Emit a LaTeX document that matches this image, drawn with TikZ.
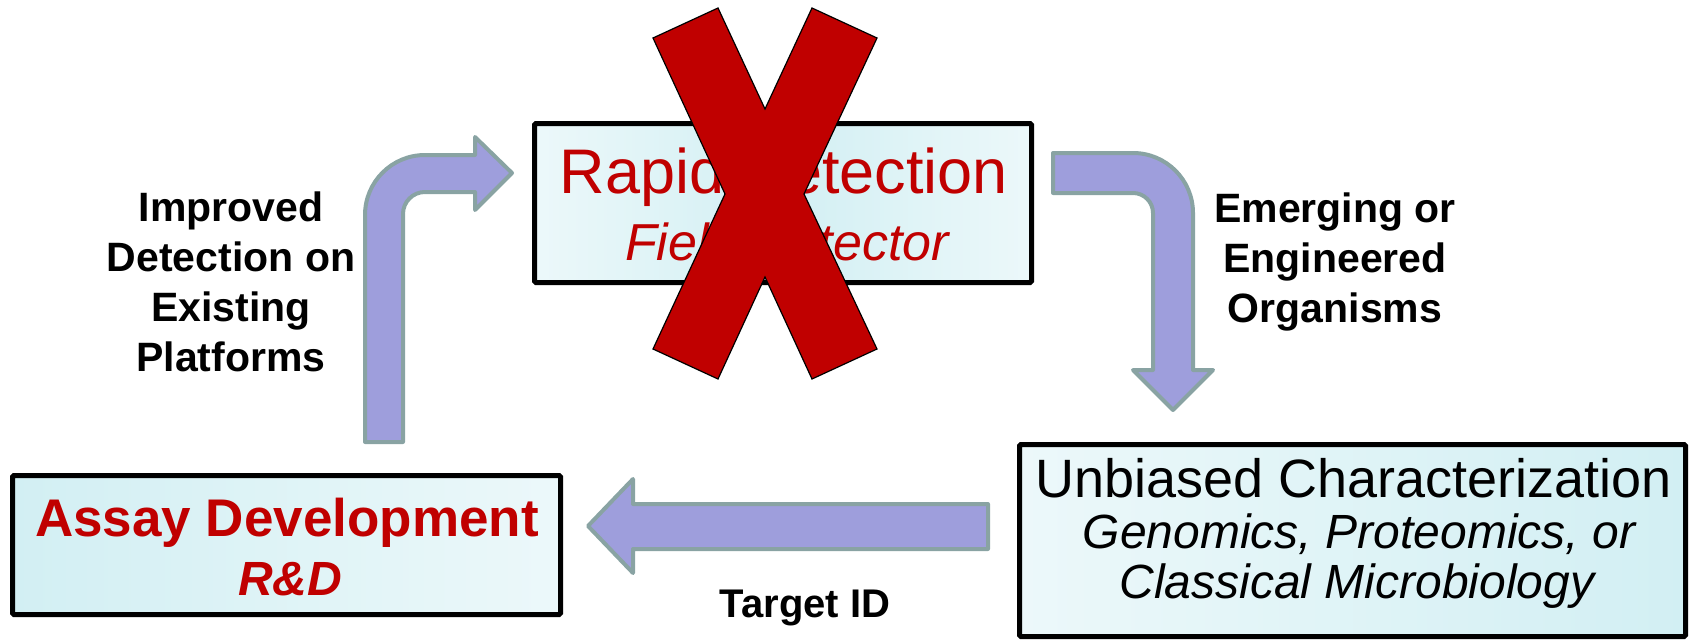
\documentclass[tikz,border=0pt]{standalone}
\usepackage{fontspec}
\setmainfont{Liberation Sans}
\definecolor{darkred}{RGB}{192,0,0}
\definecolor{arrowfill}{RGB}{158,158,220}
\definecolor{arrowedge}{RGB}{137,163,163}
\definecolor{paleblue}{RGB}{236,248,250}
\definecolor{midblue}{RGB}{210,239,243}
\newcommand{\fsz}[1]{\fontsize{#1}{#1}\selectfont}
\tikzset{box/.style={draw=black,line width=5pt,rounded corners=1.5pt,inner sep=0pt},
  fat/.style={fill=arrowfill,draw=arrowedge,line width=4pt,line join=round},
  cross/.style={fill=darkred,draw=black,line width=1.2pt},
  lbl/.style={font=\bfseries\fontsize{41}{50}\selectfont,align=center}}

\begin{document}
\begin{tikzpicture}[x=1pt,y=-1pt]
\useasboundingbox (0,0) rectangle (1692,642);
% the three stages
\node[box,left color=paleblue,right color=paleblue,middle color=midblue,minimum width=497pt,minimum height=159pt] (rapid) at (783,203) {};
\node[box,left color=midblue,right color=paleblue,minimum width=548pt,minimum height=139pt] (assay) at (286.5,545) {};
\node[box,left color=paleblue,right color=midblue,minimum width=666pt,minimum height=192pt] (unbiased) at (1352.5,540.5) {};
\node[anchor=base,text=darkred,font=\fsz{63}] (rapidtitle) at (784,193) {Rapid Detection};
\node[anchor=base,text=darkred,font=\fsz{52}\itshape] (rapidsub) at (787,260) {Field Detector};
\node[anchor=base,text=darkred,font=\fsz{53}\bfseries] (assaytitle) at (287,536) {Assay Development};
\node[anchor=base,text=darkred,font=\fsz{48}\bfseries\itshape] (assaysub) at (290,595) {R\&D};
\node[anchor=base,font=\fsz{54}] (unbtitle) at (1354,497) {Unbiased Characterization};
\node[anchor=base,font=\fsz{48}\itshape] (unbsub) at (1359,548) {Genomics, Proteomics, or};
\node[anchor=base,font=\fsz{48}\itshape] (unbsubb) at (1357,598) {Classical Microbiology};
% block arrows
\draw[fat] (365,442) -- (365,215) arc[start angle=180,end angle=270,radius=60] -- (475,155) -- (475,137) -- (512,173) -- (475,210) -- (475,192) -- (425,192) arc[start angle=270,end angle=180,radius=22] -- (403,442) -- cycle;
\draw[fat] (1053,153) -- (1133,153) arc[start angle=270,end angle=360,radius=60] -- (1193,370) -- (1213,370) -- (1173,410) -- (1133,370) -- (1153,370) -- (1153,213) arc[start angle=0,end angle=-90,radius=20] -- (1053,193) -- cycle;
\draw[fat] (988,504) -- (633,504) -- (633,479) -- (588,526) -- (633,573) -- (633,549) -- (988,549) -- cycle;
\node[lbl] (improved) at (231,282) {Improved\\Detection on\\Existing\\Platforms};
\node[lbl] (emerging) at (1335,262) {Emerging or\\Engineered\\Organisms};
\node[anchor=base,font=\fsz{40}\bfseries] (target) at (805,617) {Target ID};
% big cross over the top stage
\draw[cross] (653,38) -- (718,8) -- (765,109) -- (812,8) -- (877,38) -- (804,194) -- (877,349) -- (812,379) -- (765,277) -- (718,379) -- (653,349) -- (725,194) -- cycle;
\end{tikzpicture}
\end{document}
